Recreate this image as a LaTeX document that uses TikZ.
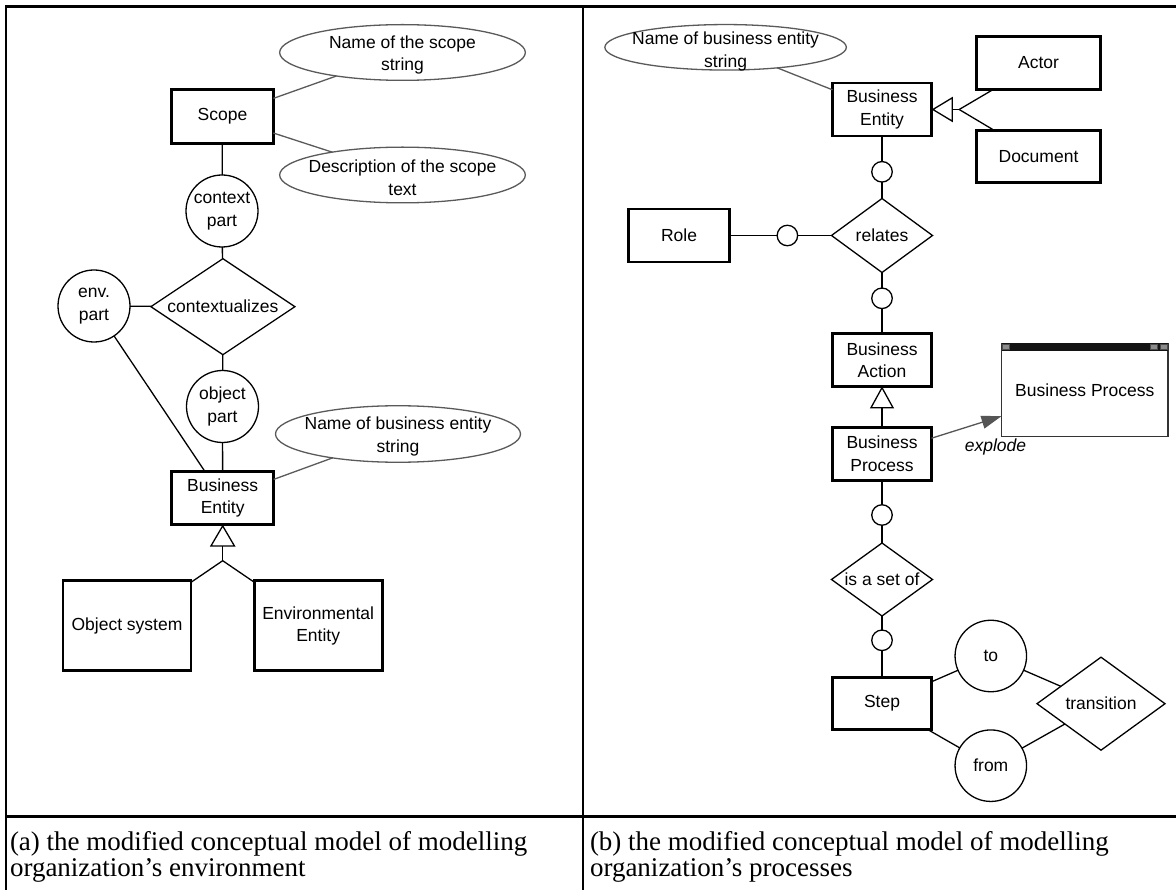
\documentclass[tikz,border=0pt]{standalone}
\usepackage{fontspec}
\usetikzlibrary{shapes.geometric,arrows.meta,calc}
\newfontfamily\arialf{Liberation Sans}
\newfontfamily\timesf{Liberation Serif}
\definecolor{attrgray}{HTML}{5A5A5A}
\definecolor{wingray}{HTML}{8C8C8C}
\definecolor{arrgray}{HTML}{555555}
\begin{document}
\begin{tikzpicture}[x=1pt,y=1pt,
  every node/.style={font=\arialf\fontsize{17.5}{22.5}\selectfont, inner sep=0pt, outer sep=0pt},
  entity/.style={draw, line width=2.8pt, rectangle, align=center, fill=white},
  relship/.style={draw, line width=1.3pt, diamond, shape aspect=1.4, fill=white},
  rolec/.style={draw, line width=1.3pt, circle, align=center, fill=white},
  dotc/.style={draw, line width=1.3pt, circle, minimum size=20.5pt, fill=white},
  attr/.style={draw=attrgray, line width=1.3pt, ellipse, fill=white},
  attrtxt/.style={align=center, yshift=-2.5pt},
  link/.style={line width=1.3pt},
  attrlink/.style={draw=attrgray, line width=1.3pt},
  grid/.style={line width=2.8pt},
  winbox/.style={draw=black!80, line width=1.2pt, rectangle, fill=white, minimum width=166.5pt, minimum height=93.6pt},
  explodearr/.style={draw=arrgray, line width=1.3pt, -{Triangle[length=20pt,width=13pt]}},
  captxt/.style={font=\timesf\fontsize{27}{27}\selectfont, anchor=base west}
]
\useasboundingbox (0,0) rectangle (1176,-890);
\fill[white] (0,0) rectangle (1176,-890);

% table grid
\draw[grid] (6,-890) -- (6,-6.7) -- (1180,-6.7);
\draw[line width=2.4pt] (583,-6.7) -- (583,-890);
\draw[grid] (6,-816.7) -- (1180,-816.7);

% ---------- left panel ----------
\node[attr, minimum width=245.7pt, minimum height=55.7pt,
      label={[attrtxt]center:{Name of the scope\\string}}] (nscope) at (402.5,-52.5) {};
\node[attr, minimum width=245.7pt, minimum height=55.7pt,
      label={[attrtxt]center:{Description of the scope\\text}}] (dscope) at (402.5,-175) {};
\node[entity, minimum width=101.8pt, minimum height=54.2pt] (scope) at (222.5,-116.5) {Scope};
\node[rolec, minimum size=72pt] (ctx) at (222,-211) {context\\part};
\node[relship, minimum width=144pt, minimum height=96pt] (ctxz) at (222.9,-306.7) {contextualizes};
\node[rolec, minimum size=72pt] (env) at (94,-306) {env.\\part};
\node[rolec, minimum size=72pt] (obj) at (222.5,-406.5) {object\\part};
\node[attr, minimum width=245pt, minimum height=56.5pt,
      label={[attrtxt]center:{Name of business entity\\string}}] (nbe) at (398,-434) {};
\node[entity, minimum width=102pt, minimum height=53pt] (be) at (222.7,-498) {Business\\Entity};
\coordinate (j1) at (222.7,-560.7);
\node[entity, minimum width=128pt, minimum height=90pt] (objsys) at (127,-625.8) {Object system};
\node[entity, minimum width=128pt, minimum height=90pt] (envent) at (318.2,-625.8) {Environmental\\Entity};

\draw[attrlink] (scope) -- (nscope);
\draw[attrlink] (scope) -- (dscope);
\draw[link] (scope) -- (ctx);
\draw[link] (ctx) -- (ctxz);
\draw[link] (env) -- (ctxz);
\draw[link] (ctxz) -- (obj);
\draw[link] (obj) -- (be);
\draw[link] (env) -- (be);
\draw[attrlink] (be) -- (nbe);
\coordinate (t1) at ($(be.south)+(0,-1.4)$);
\draw[link, line join=miter] (t1) -- ++(-11.7,-20) -- ++(23.4,0) -- cycle;
\draw[link] ($(t1)+(0,-20)$) -- (j1);
\draw[link] (j1) -- (objsys);
\draw[link] (j1) -- (envent);

% ---------- right panel ----------
\node[attr, minimum width=241.5pt, minimum height=45.5pt,
      label={[attrtxt,yshift=-1.5pt]center:{Name of business entity\\string}}] (nbe2) at (725.6,-47.3) {};
\node[entity, minimum width=99pt, minimum height=53pt] (be2) at (882,-109.5) {Business\\Entity};
\node[entity, minimum width=124pt, minimum height=53pt] (actor) at (1038.5,-62.8) {Actor};
\node[entity, minimum width=124pt, minimum height=52pt] (doc) at (1038.5,-156.8) {Document};
\coordinate (j2) at (959.2,-109.5);
\node[dotc] (c1) at (882,-171.8) {};
\node[relship, minimum width=101pt, minimum height=74pt] (rel) at (882,-235.5) {relates};
\node[entity, minimum width=100.5pt, minimum height=53pt] (role) at (679,-235.5) {Role};
\node[dotc] (c2) at (787.4,-235.5) {};
\node[dotc] (c3) at (882,-298.3) {};
\node[entity, minimum width=99pt, minimum height=52.6pt] (ba) at (882,-360) {Business\\Action};
\node[entity, minimum width=99pt, minimum height=52.9pt] (bp) at (882,-453.8) {Business\\Process};
\node[winbox] (win) at (1084.75,-390) {\raisebox{-3.6pt}{Business Process}};
\node[dotc] (c4) at (882,-515) {};
\node[relship, minimum width=101pt, minimum height=73pt] (set) at (882,-579.5) {is a set of};
\node[dotc] (c5) at (882,-640.3) {};
\node[entity, minimum width=99pt, minimum height=52pt] (step) at (882,-703.3) {Step};
\node[rolec, minimum size=71.5pt] (to) at (990.8,-656) {to};
\node[rolec, minimum size=71.5pt] (from) at (990.8,-765.7) {from};
\node[relship, minimum width=128pt, minimum height=93pt] (trans) at (1101,-703.7) {transition};

% window title bar
\fill[black!92] (win.north west) rectangle ($(win.north east)+(0,-7.5)$);
\draw[fill=wingray, draw=black!70, line width=0.6pt] ($(win.north west)+(1,-1)$) rectangle ++(7,-5.5);
\draw[fill=wingray, draw=black!70, line width=0.6pt] ($(win.north east)+(-17.5,-1)$) rectangle ++(7,-5.5);
\draw[fill=wingray, draw=black!70, line width=0.6pt] ($(win.north east)+(-8,-1)$) rectangle ++(7,-5.5);

\draw[attrlink] (be2) -- (nbe2);
\coordinate (t2) at ($(be2.east)+(1.4,0)$);
\draw[link, line join=miter] (t2) -- ++(19.4,11.7) -- ++(0,-23.4) -- cycle;
\draw[link] ($(t2)+(19.4,0)$) -- (j2);
\draw[link] (j2) -- (actor);
\draw[link] (j2) -- (doc);
\draw[link] (be2) -- (c1);
\draw[link] (c1) -- (rel);
\draw[link] (role) -- (c2);
\draw[link] (c2) -- (rel);
\draw[link] (rel) -- (c3);
\draw[link] (c3) -- (ba);
\coordinate (t3) at ($(ba.south)+(0,-1.4)$);
\draw[link, line join=miter] (t3) -- ++(-11,-20) -- ++(22,0) -- cycle;
\draw[link] ($(t3)+(0,-20)$) -- (bp);
\draw[explodearr] (bp) -- (win);
\node[font=\arialf\itshape\fontsize{17.5}{22.5}\selectfont] (explode) at (995.5,-447.3) {explode};
\draw[link] (bp) -- (c4);
\draw[link] (c4) -- (set);
\draw[link] (set) -- (c5);
\draw[link] (c5) -- (step);
\draw[link] (step) -- (to);
\draw[link] (step) -- (from);
\draw[link] (to) -- (trans);
\draw[link] (from) -- (trans);

% captions
\node[captxt] (capa1) at (10,-850) {(a) the modified conceptual model of modelling};
\node[captxt] (capa2) at (10,-876.7) {organization’s environment};
\node[captxt] (capb1) at (590,-850) {(b) the modified conceptual model of modelling};
\node[captxt] (capb2) at (590,-876.7) {organization’s processes};
\end{tikzpicture}
\end{document}
